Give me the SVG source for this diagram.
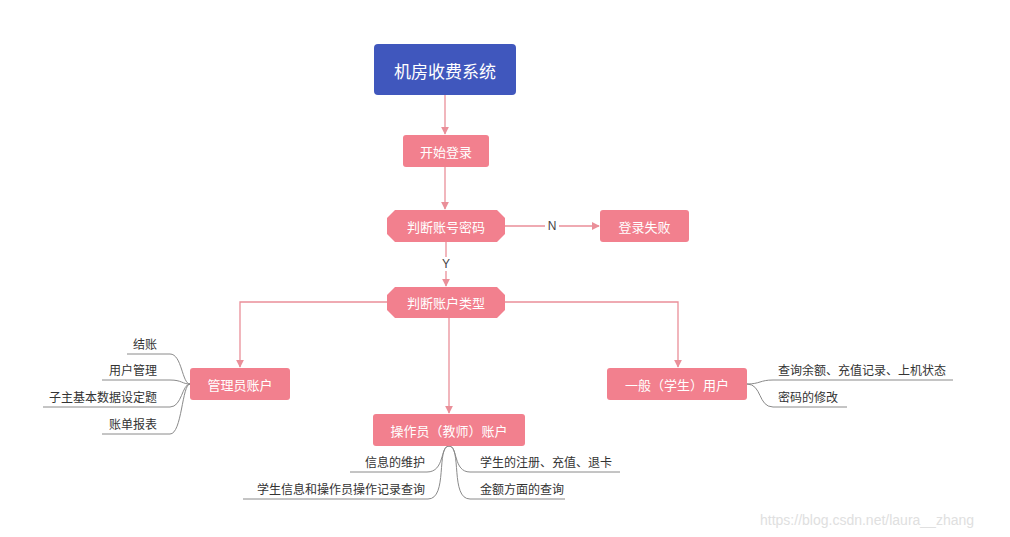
<svg xmlns="http://www.w3.org/2000/svg" width="1010" height="537" viewBox="0 0 1010 537">
<defs>
<marker id="arr" viewBox="0 0 10 10" refX="9" refY="5" markerWidth="8" markerHeight="8" orient="auto" markerUnits="userSpaceOnUse"><path d="M0,0 L10,5 L0,10 z" fill="#ea8f99"/></marker>
<style>
.pk{fill:#f2808e}
.t{font-family:"Noto Sans CJK SC","Liberation Sans",sans-serif;fill:#fff;font-size:13px;text-anchor:middle;dominant-baseline:central}
.c{fill:none;stroke:#ea8f99;stroke-width:1.3}
.l{fill:none;stroke:#8a8a8a;stroke-width:1}
.lt{font-family:"Noto Sans CJK SC","Liberation Sans",sans-serif;fill:#333;font-size:12px}
</style>
</defs>
<rect width="1010" height="537" fill="#fff"/>
<g id="connectors">
<path class="c" d="M445,95 V134" marker-end="url(#arr)"/>
<path class="c" d="M445,167 V209" marker-end="url(#arr)"/>
<path class="c" d="M505,226 H545 M559,226 H599" marker-end="url(#arr)"/>
<text x="552" y="226" font-family="Liberation Sans,sans-serif" font-size="12" fill="#444" text-anchor="middle" dominant-baseline="central">N</text>
<path class="c" d="M446,242 V257 M446,271 V286" marker-end="url(#arr)"/>
<text x="446" y="264" font-family="Liberation Sans,sans-serif" font-size="12" fill="#444" text-anchor="middle" dominant-baseline="central">Y</text>
<path class="c" d="M387,302 H240 V367" marker-end="url(#arr)"/>
<path class="c" d="M505,302 H678 V367" marker-end="url(#arr)"/>
<path class="c" d="M449,318 V413" marker-end="url(#arr)"/>
<!-- admin leaves -->
<path class="l" d="M190,384 C182,384 182,354 170,354 H127"/>
<path class="l" d="M190,384 C182,384 182,380 170,380 H102"/>
<path class="l" d="M190,384 C182,384 182,407 170,407 H43"/>
<path class="l" d="M190,384 C182,384 182,434 170,434 H102"/>
<!-- student leaves -->
<path class="l" d="M747,384 C760,384 760,380 773,380 H953"/>
<path class="l" d="M747,384 C762,384 758,407 773,407 H847"/>
<!-- operator leaves -->
<path class="l" d="M449,446 C440,446 445,472 427,472 H350"/>
<path class="l" d="M449,446 C436,446 448,499 428,499 H243"/>
<path class="l" d="M449,446 C458,446 453,472 470,472 H620"/>
<path class="l" d="M449,446 C462,446 450,499 470,499 H565"/>
</g>
<g id="n-root"><rect x="374" y="44" width="142" height="51" rx="4" fill="#4057bd"/><text class="t" x="445" y="70" font-size="17" style="font-size:17px">机房收费系统</text></g>
<g id="n-start"><rect class="pk" x="403" y="135" width="86" height="32" rx="3"/><text class="t" x="446" y="151">开始登录</text></g>
<g id="n-check"><polygon class="pk" points="395,210 497,210 505,218 505,234 497,242 395,242 387,234 387,218"/><text class="t" x="446" y="226">判断账号密码</text></g>
<g id="n-fail"><rect class="pk" x="600" y="210" width="89" height="32" rx="3"/><text class="t" x="644.5" y="226">登录失败</text></g>
<g id="n-type"><polygon class="pk" points="395,287 497,287 505,295 505,310 497,318 395,318 387,310 387,295"/><text class="t" x="446" y="302.5">判断账户类型</text></g>
<g id="n-admin"><rect class="pk" x="190" y="368" width="100" height="32" rx="3"/><text class="t" x="240" y="384">管理员账户</text></g>
<g id="n-student"><rect class="pk" x="607" y="368" width="140" height="32" rx="3"/><text class="t" x="677" y="384">一般（学生）用户</text></g>
<g id="n-operator"><rect class="pk" x="373" y="414" width="152" height="32" rx="3"/><text class="t" x="449" y="430">操作员（教师）账户</text></g>
<g id="leaves">
<text class="lt" x="157" y="349" text-anchor="end">结账</text>
<text class="lt" x="157" y="375" text-anchor="end">用户管理</text>
<text class="lt" x="157" y="402" text-anchor="end">子主基本数据设定题</text>
<text class="lt" x="157" y="429" text-anchor="end">账单报表</text>
<text class="lt" x="778" y="375">查询余额、充值记录、上机状态</text>
<text class="lt" x="778" y="402">密码的修改</text>
<text class="lt" x="425" y="467" text-anchor="end">信息的维护</text>
<text class="lt" x="425" y="494" text-anchor="end">学生信息和操作员操作记录查询</text>
<text class="lt" x="480" y="467">学生的注册、充值、退卡</text>
<text class="lt" x="480" y="494">金额方面的查询</text>
</g>
<text x="760" y="525" font-family="Liberation Sans,sans-serif" font-size="14" fill="#e0e0e0">https://blog.csdn.net/laura__zhang</text>
</svg>
